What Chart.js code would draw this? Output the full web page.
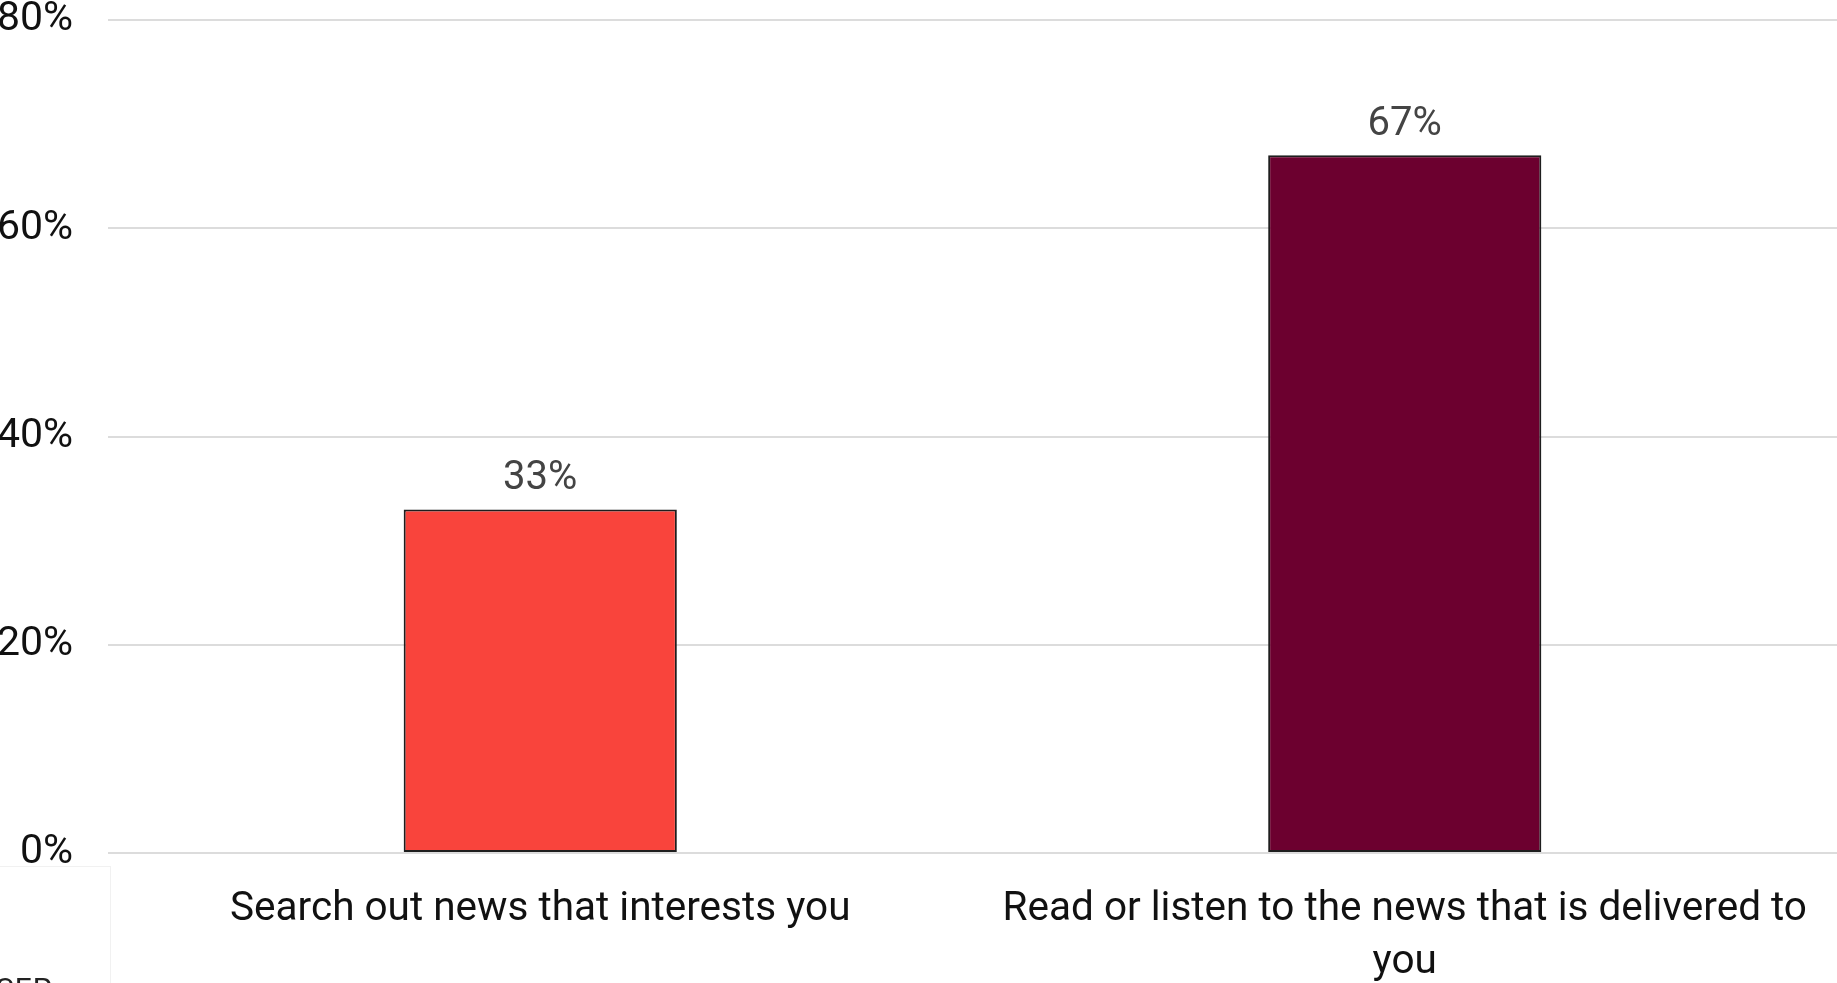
<!DOCTYPE html>
<html>
<head>
<meta charset="utf-8">
<script src="https://cdn.jsdelivr.net/npm/chart.js@4"></script>
<style>
  html, body { margin: 0; padding: 0; background: #fff; overflow: hidden; }
  #wrap { position: relative; width: 1837px; height: 983px; }
  #corner {
    position: absolute; left: 0; top: 866px; width: 110px; height: 140px;
    border-top: 1px solid #f1f1f1; border-right: 1px solid #f1f1f1;
    font-family: Roboto, sans-serif;
    font-size: 30px; color: #222; overflow: hidden;
  }
  #corner span { position: absolute; left: -4px; top: 104px; letter-spacing: 1px; }
</style>
</head>
<body>
<div id="wrap">
  <canvas id="myChart" width="1837" height="983"></canvas>
  <div id="corner"><span>SEP</span></div>
</div>
<script>
// data
const categories = [
  'Search out news that interests you',
  ['Read or listen to the news that is delivered to', 'you']
];
const shares = [33, 67];
const barColors = ['#F9443C', '#6C002F'];
const yTicks = [0, 20, 40, 60, 80];

const fontFamily = 'Roboto, "Liberation Sans", Arial, sans-serif';

// value labels above bars
const valueLabels = {
  id: 'valueLabels',
  afterDatasetsDraw(chart) {
    const ctx = chart.ctx;
    const meta = chart.getDatasetMeta(0);
    ctx.save();
    ctx.font = '40px ' + fontFamily;
    ctx.fillStyle = '#444444';
    ctx.textAlign = 'center';
    ctx.textBaseline = 'alphabetic';
    meta.data.forEach((bar, i) => {
      const { x, y } = bar.getProps(['x', 'y'], true);
      ctx.fillText(shares[i] + '%', x, y - 20);
    });
    ctx.restore();
  }
};

const chartEl = document.getElementById('myChart');

new Chart(chartEl, {
  type: 'bar',
  data: {
    labels: categories,
    datasets: [{
      data: shares,
      backgroundColor: barColors,
      borderColor: '#1e1e1e',
      borderWidth: 2,
      borderSkipped: false,
      barPercentage: 0.316,
      categoryPercentage: 1
    }]
  },
  options: {
    responsive: false,
    animation: false,
    devicePixelRatio: 1,
    layout: { padding: { top: 20, right: 0, bottom: 0, left: 0 } },
    plugins: {
      legend: { display: false },
      tooltip: { enabled: false }
    },
    scales: {
      x: {
        grid: { display: false, drawTicks: false },
        border: { display: false },
        ticks: {
          color: '#111111',
          padding: 31,
          maxRotation: 0,
          autoSkip: false,
          font: { family: fontFamily, size: 40.5, lineHeight: 1.3 }
        },
        afterFit(scale) {
          scale.height = 130;
          scale.paddingLeft = 0;
          scale.paddingRight = 0;
        }
      },
      y: {
        min: 0,
        max: 80,
        afterBuildTicks(scale) {
          scale.ticks = yTicks.map(v => ({ value: v }));
        },
        grid: { color: '#dcdcdc', lineWidth: 2, drawTicks: false },
        border: { display: false },
        ticks: {
          color: '#111111',
          padding: 35,
          font: { family: fontFamily, size: 41 },
          callback: v => v + '%'
        },
        afterFit(scale) {
          scale.width = 108;
          scale.paddingTop = 0;
          scale.paddingBottom = 0;
        }
      }
    }
  },
  plugins: [valueLabels]
});
</script>
</body>
</html>
